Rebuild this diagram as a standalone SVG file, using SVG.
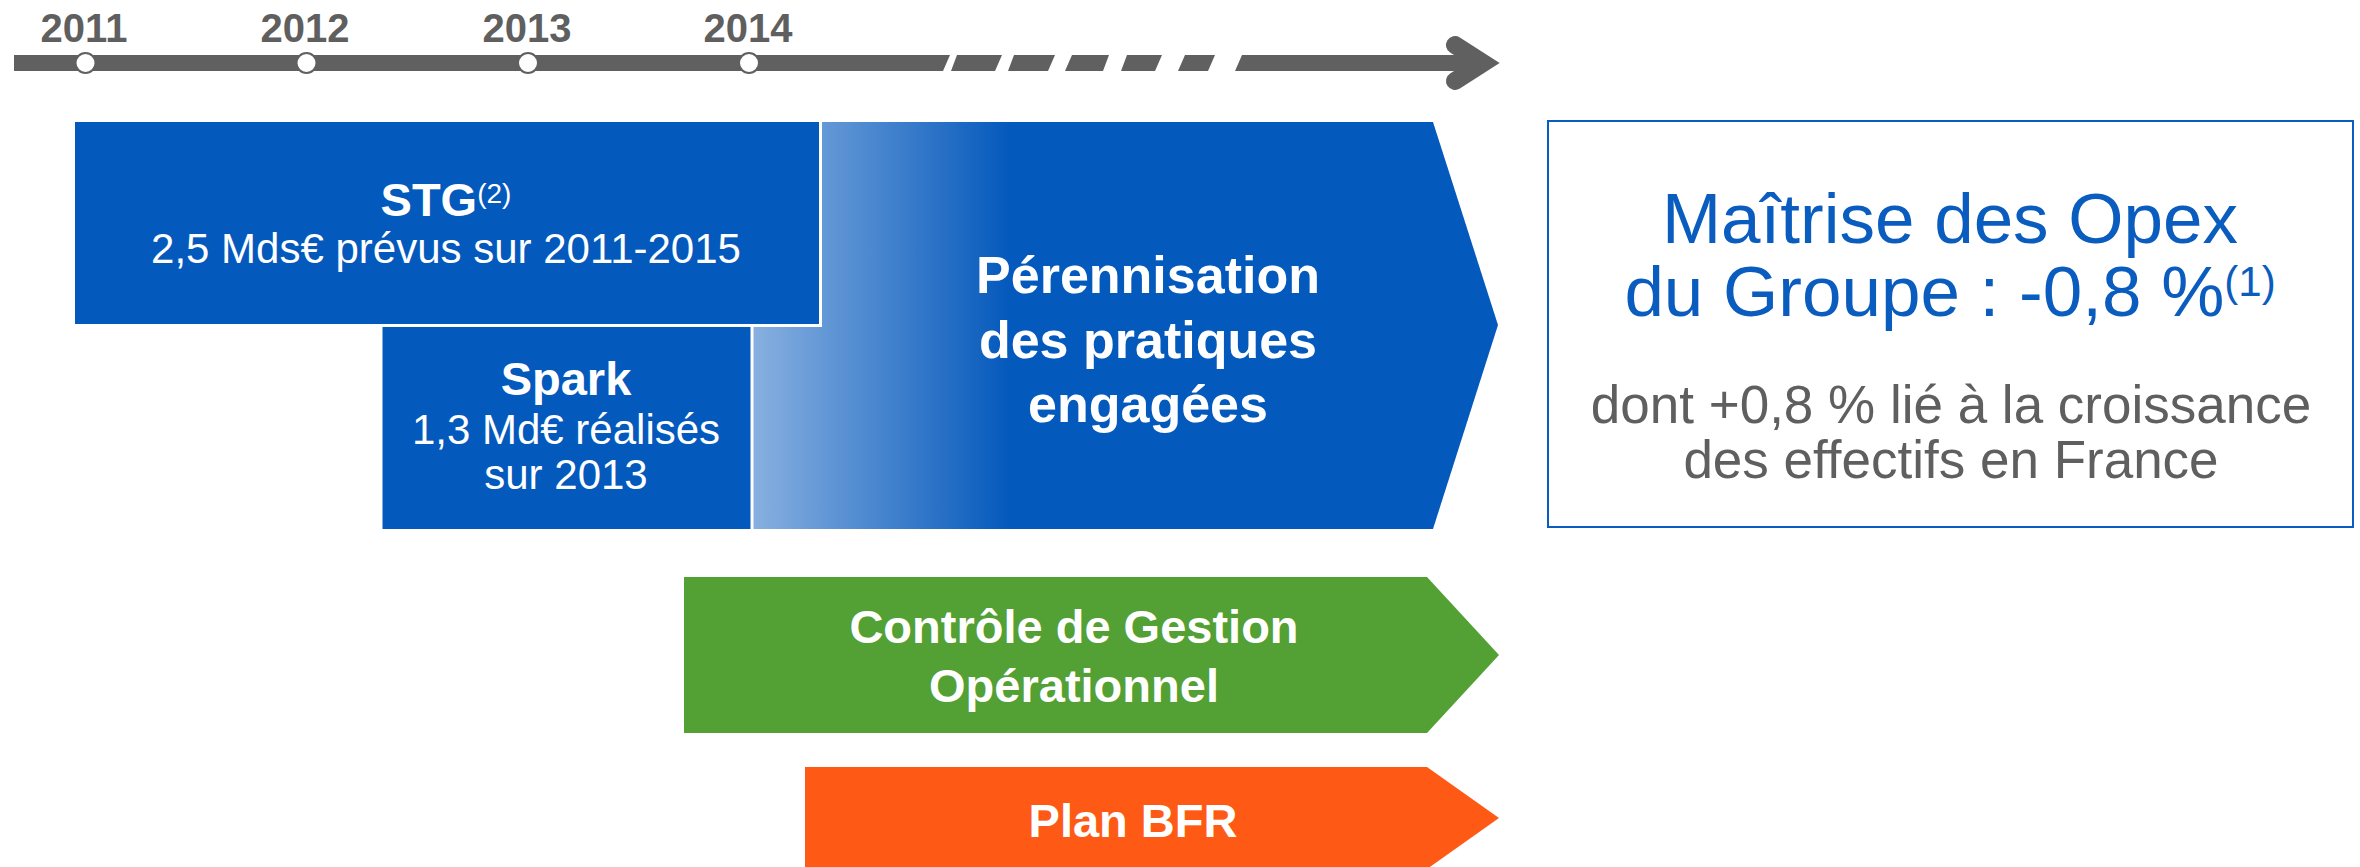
<svg xmlns="http://www.w3.org/2000/svg" width="2360" height="867" viewBox="0 0 2360 867">
<defs>
<linearGradient id="gradBlue" gradientUnits="userSpaceOnUse" x1="753" y1="0" x2="1010" y2="0">
<stop offset="0" stop-color="#88b0e0"/>
<stop offset="1" stop-color="#0459bc"/>
</linearGradient>
</defs>
<style>
text{font-family:"Liberation Sans",Arial,sans-serif;}
.year{font-size:40px;font-weight:bold;fill:#5f5f5f;text-anchor:middle;}
.bar{fill:#606060;}
.tick{fill:#ffffff;stroke:#606060;stroke-width:2;}
.blue{fill:#0459bc;stroke:#ffffff;stroke-width:3;}
.wb{fill:#ffffff;font-weight:bold;text-anchor:middle;}
.wr{fill:#ffffff;text-anchor:middle;}
.bt{fill:#0a5cbe;text-anchor:middle;font-size:71px;}
.gt{fill:#5f5f5f;text-anchor:middle;font-size:53px;}
</style>
<rect width="2360" height="867" fill="#ffffff"/>
<g id="timeline">
<polygon class="bar" points="14,55 950,55 943,71 14,71"/>
<polygon class="bar" points="957,55 1002,55 995,71 951,71"/>
<polygon class="bar" points="1014,55 1055,55 1048,71 1008,71"/>
<polygon class="bar" points="1072,55 1109,55 1103,71 1065,71"/>
<polygon class="bar" points="1127,55 1162,55 1155,71 1121,71"/>
<polygon class="bar" points="1185,55 1215,55 1208,71 1178,71"/>
<polygon class="bar" points="1242,55 1485,55 1485,71 1235,71"/>
<polyline points="1455,45 1483,63 1455,81" fill="none" stroke="#606060" stroke-width="18" stroke-linecap="round" stroke-linejoin="miter"/>
<circle class="tick" cx="85.5" cy="63" r="10"/>
<circle class="tick" cx="306.5" cy="63" r="10"/>
<circle class="tick" cx="528" cy="63" r="10"/>
<circle class="tick" cx="749" cy="63" r="10"/>
<text class="year" x="84" y="42">2011</text>
<text class="year" x="305" y="42">2012</text>
<text class="year" x="527" y="42">2013</text>
<text class="year" x="748" y="42">2014</text>
</g>
<g id="perennisation">
<polygon points="740,122 1433,122 1498,325 1433,529 740,529" fill="url(#gradBlue)"/>
<text class="wb" font-size="52" x="1148" y="293">Pérennisation</text>
<text class="wb" font-size="52" x="1148" y="358">des pratiques</text>
<text class="wb" font-size="52" x="1148" y="422">engagées</text>
</g>
<g id="stg">
<rect class="blue" x="73.5" y="120.5" width="747" height="205"/>
<text class="wr" x="446" y="216"><tspan font-weight="bold" font-size="47">STG</tspan><tspan font-size="28" dy="-13">(2)</tspan></text>
<text class="wr" font-size="42" x="446" y="263">2,5 Mds€ prévus sur 2011-2015</text>
</g>
<g id="spark">
<rect class="blue" x="381" y="325.5" width="371" height="205"/>
<text class="wb" font-size="47" x="566" y="395">Spark</text>
<text class="wr" font-size="42" x="566" y="444">1,3 Md€ réalisés</text>
<text class="wr" font-size="42" x="566" y="489">sur 2013</text>
</g>
<g id="opex">
<rect x="1548" y="121" width="805" height="406" fill="#ffffff" stroke="#0a5cbe" stroke-width="2"/>
<text class="bt" x="1950" y="243">Maîtrise des Opex</text>
<text class="bt" x="1950" y="316">du Groupe : -0,8 %<tspan font-size="42" dy="-20">(1)</tspan></text>
<text class="gt" x="1951" y="423">dont +0,8 % lié à la croissance</text>
<text class="gt" x="1951" y="478">des effectifs en France</text>
</g>
<g id="controle">
<polygon points="684,577 1427,577 1499,655 1427,733 684,733" fill="#53a034"/>
<text class="wb" font-size="47" x="1074" y="643">Contrôle de Gestion</text>
<text class="wb" font-size="47" x="1074" y="702">Opérationnel</text>
</g>
<g id="bfr">
<polygon points="805,767 1427,767 1499,818 1427,869 805,869" fill="#fe5a16"/>
<text class="wb" font-size="47" x="1133" y="837">Plan BFR</text>
</g>
</svg>
